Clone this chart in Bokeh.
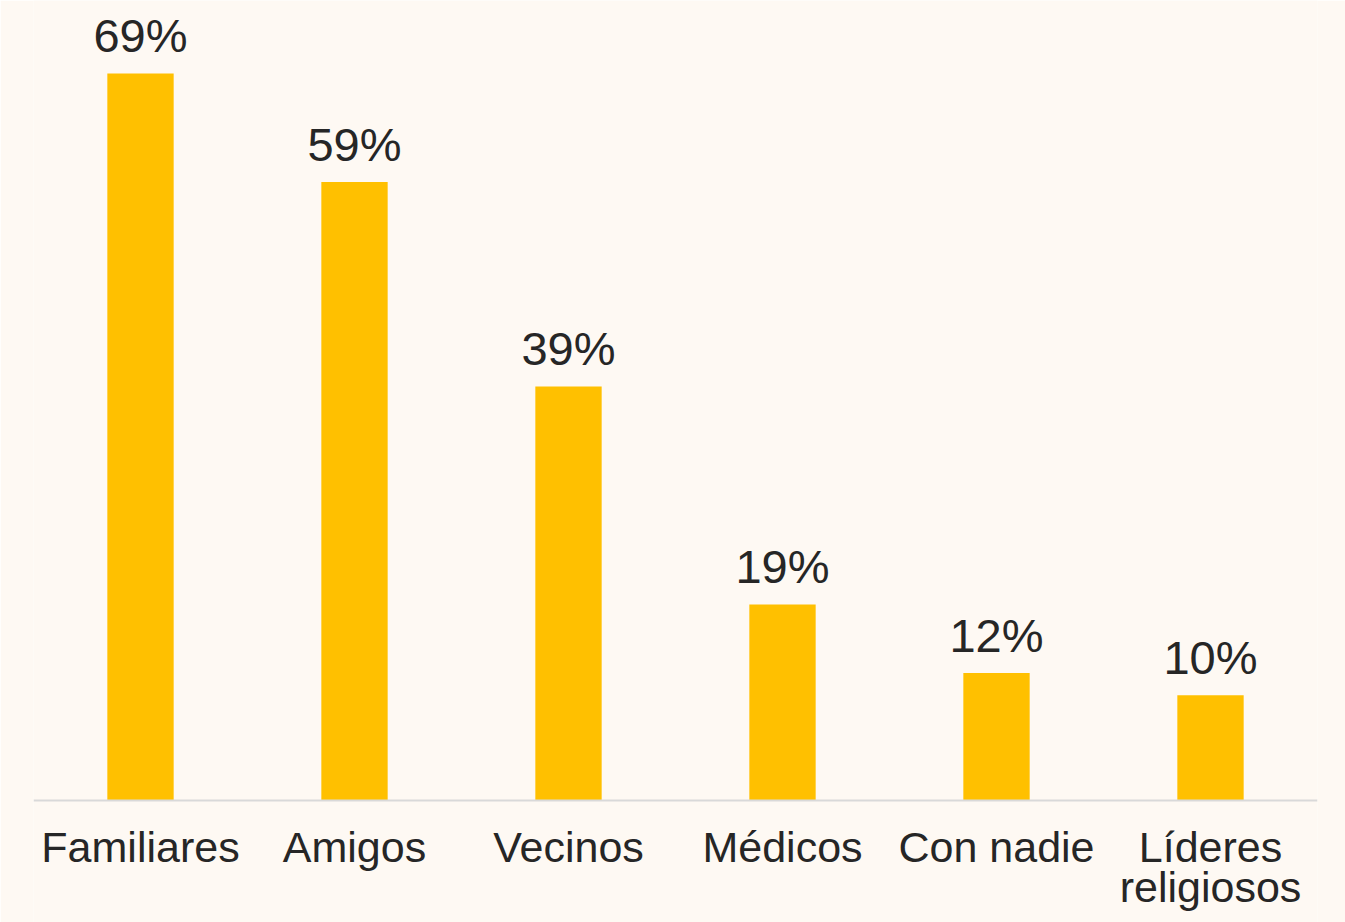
from bokeh.plotting import figure
from bokeh.models import ColumnDataSource, Range1d, Span
from bokeh.embed import file_html
from bokeh.resources import INLINE
from bokeh.core.properties import value

categories = ["Familiares", "Amigos", "Vecinos", "Médicos", "Con nadie", "Líderes religiosos"]
label_line1 = ["Familiares", "Amigos", "Vecinos", "Médicos", "Con nadie", "Líderes"]
label_line2 = ["", "", "", "", "", "religiosos"]
values = [69.0, 58.7, 39.3, 18.6, 12.1, 10.0]
labels = [f"{round(v)}%" for v in values]

BG = "#FEF9F3"
BAR = "#FFC000"
TXT = "#262626"
FONT = "Liberation Sans"

src = ColumnDataSource(dict(cat=categories, val=values, lab=labels,
                            l1=label_line1, l2=label_line2, zero=[0] * len(values)))

p = figure(x_range=categories, width=1345, height=922, output_backend="svg",
           toolbar_location=None, background_fill_color=BG, border_fill_color=BG,
           min_border_left=33, min_border_right=28, min_border_top=0, min_border_bottom=0)
p.y_range = Range1d(-11.58, 75.93)
p.outline_line_color = None
p.grid.grid_line_color = None
p.xaxis.visible = False
p.yaxis.visible = False

p.add_layout(Span(location=0, dimension="width", line_color="#D9D9D9", line_width=2))

p.vbar(x="cat", top="val", width=0.31, source=src, fill_color=BAR, line_color=None)
p.text(x="cat", y="val", text="lab", source=src, text_align="center",
       text_baseline="alphabetic", y_offset=-38, text_font=value(FONT),
       text_font_size="47px", text_color=TXT)
p.text(x="cat", y="zero", text="l1", source=src, text_align="center",
       text_baseline="alphabetic", y_offset=47, text_font=value(FONT),
       text_font_size="43px", text_color=TXT)
p.text(x="cat", y="zero", text="l2", source=src, text_align="center",
       text_baseline="alphabetic", y_offset=87, text_font=value(FONT),
       text_font_size="43px", text_color=TXT)

open("out.html", "w").write(file_html(p, INLINE))
